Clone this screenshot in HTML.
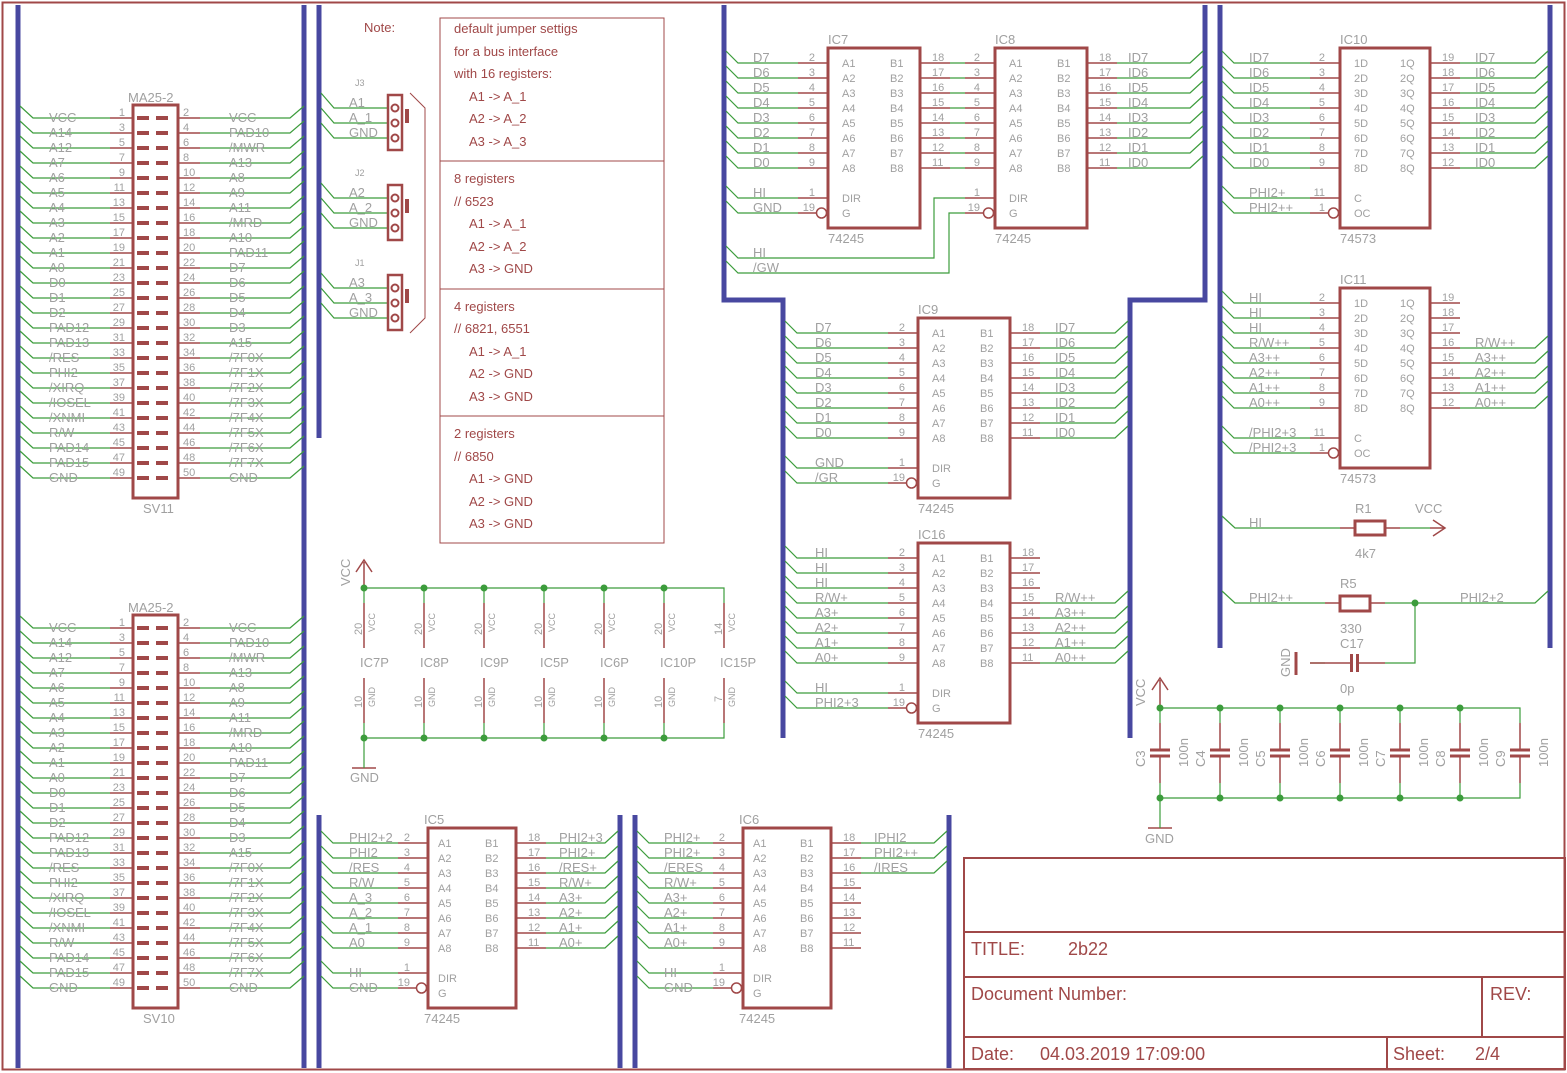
<!DOCTYPE html>
<html><head><meta charset="utf-8"><style>
html,body{margin:0;padding:0;background:#fff}
svg{display:block}
text{font-family:"Liberation Sans",sans-serif}
.l{font-size:13px;fill:#a0a0a0}
.n{font-size:11px;fill:#a0a0a0}
.s{font-size:9px;fill:#a0a0a0}
.t{font-size:13px;fill:#a04848}
.T{font-size:18px;fill:#a04848}
.e{text-anchor:end}
.g{stroke:#3c9c3c;stroke-width:1.2;fill:none}
.r{stroke:#a04848;stroke-width:1.5;fill:none}
.R{stroke:#a04848;stroke-width:3;fill:none}
.b{stroke:#4848a0;stroke-width:5;fill:none}
</style></head><body>
<svg width="1567" height="1073" viewBox="0 0 1567 1073" xmlns="http://www.w3.org/2000/svg">
<defs>
<g id="sv"><path class="g" d="M20 -12L33 0H110M200 0H290L304 -12"/><path class="r" d="M110 0H133M178 0H200"/><rect x="137" y="-2" width="12" height="4" fill="#a04848"/><rect x="156" y="-2" width="12" height="4" fill="#a04848"/></g>
<circle id="dot" r="3.5" fill="#3c9c3c"/>
</defs>
<rect x="2.5" y="2.5" width="1562" height="1067" fill="none" stroke="#a04848" stroke-width="2"/>
<!-- buses -->
<path class="b" d="M18 5V1068M304 5V1068M319 5V438M319 815V1068M620 815V1068M635 815V1068M949 815V1068M724 5V300H783V738M1205 5V300H1130V738M1220 5V648M1550 5V648"/>

<!-- SV11 -->
<rect class="R" x="133" y="105" width="45" height="393"/>
<text class="l" x="128" y="102">MA25-2</text><text class="l" x="143" y="513">SV11</text>
<use href="#sv" y="118"/><use href="#sv" y="133"/><use href="#sv" y="148"/><use href="#sv" y="163"/><use href="#sv" y="178"/><use href="#sv" y="193"/><use href="#sv" y="208"/><use href="#sv" y="223"/><use href="#sv" y="238"/><use href="#sv" y="253"/><use href="#sv" y="268"/><use href="#sv" y="283"/><use href="#sv" y="298"/><use href="#sv" y="313"/><use href="#sv" y="328"/><use href="#sv" y="343"/><use href="#sv" y="358"/><use href="#sv" y="373"/><use href="#sv" y="388"/><use href="#sv" y="403"/><use href="#sv" y="418"/><use href="#sv" y="433"/><use href="#sv" y="448"/><use href="#sv" y="463"/><use href="#sv" y="478"/>
<g class="l">
<text x="49" y="122">VCC</text><text x="49" y="137">A14</text><text x="49" y="152">A12</text><text x="49" y="167">A7</text><text x="49" y="182">A6</text><text x="49" y="197">A5</text><text x="49" y="212">A4</text><text x="49" y="227">A3</text><text x="49" y="242">A2</text><text x="49" y="257">A1</text><text x="49" y="272">A0</text><text x="49" y="287">D0</text><text x="49" y="302">D1</text><text x="49" y="317">D2</text><text x="49" y="332">PAD12</text><text x="49" y="347">PAD13</text><text x="49" y="362">/RES</text><text x="49" y="377">PHI2</text><text x="49" y="392">/XIRQ</text><text x="49" y="407">/IOSEL</text><text x="49" y="422">/XNMI</text><text x="49" y="437">R/W</text><text x="49" y="452">PAD14</text><text x="49" y="467">PAD15</text><text x="49" y="482">GND</text>
<text x="229" y="122">VCC</text><text x="229" y="137">PAD10</text><text x="229" y="152">/MWR</text><text x="229" y="167">A13</text><text x="229" y="182">A8</text><text x="229" y="197">A9</text><text x="229" y="212">A11</text><text x="229" y="227">/MRD</text><text x="229" y="242">A10</text><text x="229" y="257">PAD11</text><text x="229" y="272">D7</text><text x="229" y="287">D6</text><text x="229" y="302">D5</text><text x="229" y="317">D4</text><text x="229" y="332">D3</text><text x="229" y="347">A15</text><text x="229" y="362">/7F0X</text><text x="229" y="377">/7F1X</text><text x="229" y="392">/7F2X</text><text x="229" y="407">/7F3X</text><text x="229" y="422">/7F4X</text><text x="229" y="437">/7F5X</text><text x="229" y="452">/7F6X</text><text x="229" y="467">/7F7X</text><text x="229" y="482">GND</text>
</g>
<g class="n" transform="translate(0,-5)">
<g class="e"><text x="125" y="121">1</text><text x="125" y="136">3</text><text x="125" y="151">5</text><text x="125" y="166">7</text><text x="125" y="181">9</text><text x="125" y="196">11</text><text x="125" y="211">13</text><text x="125" y="226">15</text><text x="125" y="241">17</text><text x="125" y="256">19</text><text x="125" y="271">21</text><text x="125" y="286">23</text><text x="125" y="301">25</text><text x="125" y="316">27</text><text x="125" y="331">29</text><text x="125" y="346">31</text><text x="125" y="361">33</text><text x="125" y="376">35</text><text x="125" y="391">37</text><text x="125" y="406">39</text><text x="125" y="421">41</text><text x="125" y="436">43</text><text x="125" y="451">45</text><text x="125" y="466">47</text><text x="125" y="481">49</text></g>
<text x="183" y="121">2</text><text x="183" y="136">4</text><text x="183" y="151">6</text><text x="183" y="166">8</text><text x="183" y="181">10</text><text x="183" y="196">12</text><text x="183" y="211">14</text><text x="183" y="226">16</text><text x="183" y="241">18</text><text x="183" y="256">20</text><text x="183" y="271">22</text><text x="183" y="286">24</text><text x="183" y="301">26</text><text x="183" y="316">28</text><text x="183" y="331">30</text><text x="183" y="346">32</text><text x="183" y="361">34</text><text x="183" y="376">36</text><text x="183" y="391">38</text><text x="183" y="406">40</text><text x="183" y="421">42</text><text x="183" y="436">44</text><text x="183" y="451">46</text><text x="183" y="466">48</text><text x="183" y="481">50</text>
</g>

<!-- SV10 -->
<rect class="R" x="133" y="615" width="45" height="393"/>
<text class="l" x="128" y="612">MA25-2</text><text class="l" x="143" y="1023">SV10</text>
<use href="#sv" y="628"/><use href="#sv" y="643"/><use href="#sv" y="658"/><use href="#sv" y="673"/><use href="#sv" y="688"/><use href="#sv" y="703"/><use href="#sv" y="718"/><use href="#sv" y="733"/><use href="#sv" y="748"/><use href="#sv" y="763"/><use href="#sv" y="778"/><use href="#sv" y="793"/><use href="#sv" y="808"/><use href="#sv" y="823"/><use href="#sv" y="838"/><use href="#sv" y="853"/><use href="#sv" y="868"/><use href="#sv" y="883"/><use href="#sv" y="898"/><use href="#sv" y="913"/><use href="#sv" y="928"/><use href="#sv" y="943"/><use href="#sv" y="958"/><use href="#sv" y="973"/><use href="#sv" y="988"/>
<g class="l">
<text x="49" y="632">VCC</text><text x="49" y="647">A14</text><text x="49" y="662">A12</text><text x="49" y="677">A7</text><text x="49" y="692">A6</text><text x="49" y="707">A5</text><text x="49" y="722">A4</text><text x="49" y="737">A3</text><text x="49" y="752">A2</text><text x="49" y="767">A1</text><text x="49" y="782">A0</text><text x="49" y="797">D0</text><text x="49" y="812">D1</text><text x="49" y="827">D2</text><text x="49" y="842">PAD12</text><text x="49" y="857">PAD13</text><text x="49" y="872">/RES</text><text x="49" y="887">PHI2</text><text x="49" y="902">/XIRQ</text><text x="49" y="917">/IOSEL</text><text x="49" y="932">/XNMI</text><text x="49" y="947">R/W</text><text x="49" y="962">PAD14</text><text x="49" y="977">PAD15</text><text x="49" y="992">GND</text>
<text x="229" y="632">VCC</text><text x="229" y="647">PAD10</text><text x="229" y="662">/MWR</text><text x="229" y="677">A13</text><text x="229" y="692">A8</text><text x="229" y="707">A9</text><text x="229" y="722">A11</text><text x="229" y="737">/MRD</text><text x="229" y="752">A10</text><text x="229" y="767">PAD11</text><text x="229" y="782">D7</text><text x="229" y="797">D6</text><text x="229" y="812">D5</text><text x="229" y="827">D4</text><text x="229" y="842">D3</text><text x="229" y="857">A15</text><text x="229" y="872">/7F0X</text><text x="229" y="887">/7F1X</text><text x="229" y="902">/7F2X</text><text x="229" y="917">/7F3X</text><text x="229" y="932">/7F4X</text><text x="229" y="947">/7F5X</text><text x="229" y="962">/7F6X</text><text x="229" y="977">/7F7X</text><text x="229" y="992">GND</text>
</g>
<g class="n" transform="translate(0,-5)">
<g class="e"><text x="125" y="631">1</text><text x="125" y="646">3</text><text x="125" y="661">5</text><text x="125" y="676">7</text><text x="125" y="691">9</text><text x="125" y="706">11</text><text x="125" y="721">13</text><text x="125" y="736">15</text><text x="125" y="751">17</text><text x="125" y="766">19</text><text x="125" y="781">21</text><text x="125" y="796">23</text><text x="125" y="811">25</text><text x="125" y="826">27</text><text x="125" y="841">29</text><text x="125" y="856">31</text><text x="125" y="871">33</text><text x="125" y="886">35</text><text x="125" y="901">37</text><text x="125" y="916">39</text><text x="125" y="931">41</text><text x="125" y="946">43</text><text x="125" y="961">45</text><text x="125" y="976">47</text><text x="125" y="991">49</text></g>
<text x="183" y="631">2</text><text x="183" y="646">4</text><text x="183" y="661">6</text><text x="183" y="676">8</text><text x="183" y="691">10</text><text x="183" y="706">12</text><text x="183" y="721">14</text><text x="183" y="736">16</text><text x="183" y="751">18</text><text x="183" y="766">20</text><text x="183" y="781">22</text><text x="183" y="796">24</text><text x="183" y="811">26</text><text x="183" y="826">28</text><text x="183" y="841">30</text><text x="183" y="856">32</text><text x="183" y="871">34</text><text x="183" y="886">36</text><text x="183" y="901">38</text><text x="183" y="916">40</text><text x="183" y="931">42</text><text x="183" y="946">44</text><text x="183" y="961">46</text><text x="183" y="976">48</text><text x="183" y="991">50</text>
</g>

<!-- Jumpers -->
<path class="g" d="M321 93l13 15H388M321 108l13 15H388M321 123l13 15H388M321 183l13 15H388M321 198l13 15H388M321 213l13 15H388M321 273l13 15H388M321 288l13 15H388M321 303l13 15H388"/>
<g class="R" style="stroke-width:2.5"><rect x="388" y="95" width="14" height="55"/><rect x="388" y="185" width="14" height="55"/><rect x="388" y="275" width="14" height="55"/></g>
<g class="r" style="stroke-width:2"><circle cx="395" cy="108" r="3.5"/><circle cx="395" cy="123" r="3.5"/><circle cx="395" cy="138" r="3.5"/><circle cx="395" cy="198" r="3.5"/><circle cx="395" cy="213" r="3.5"/><circle cx="395" cy="228" r="3.5"/><circle cx="395" cy="288" r="3.5"/><circle cx="395" cy="303" r="3.5"/><circle cx="395" cy="318" r="3.5"/></g>
<rect x="405" y="109" width="4" height="14" fill="#a04848"/><rect x="405" y="199" width="4" height="14" fill="#a04848"/><rect x="405" y="289" width="4" height="14" fill="#a04848"/>
<path class="r" style="stroke-width:1" d="M410 93L425 108V318L410 333"/>
<g class="l"><text x="349" y="107">A1</text><text x="349" y="122">A_1</text><text x="349" y="137">GND</text><text x="349" y="197">A2</text><text x="349" y="212">A_2</text><text x="349" y="227">GND</text><text x="349" y="287">A3</text><text x="349" y="302">A_3</text><text x="349" y="317">GND</text></g>
<g class="s"><text x="355" y="86">J3</text><text x="355" y="176">J2</text><text x="355" y="266">J1</text></g>

<!-- Note -->
<text class="t" x="364" y="32">Note:</text>
<rect x="440" y="18" width="224" height="525" fill="none" stroke="#a04848" stroke-width="1"/>
<path class="r" style="stroke-width:1" d="M440 161H664M440 289H664M440 416H664"/>
<g class="t">
<text x="454" y="33">default jumper settigs</text><text x="454" y="56">for a bus interface</text><text x="454" y="78">with 16 registers:</text>
<text x="469" y="101">A1 -&gt; A_1</text><text x="469" y="123">A2 -&gt; A_2</text><text x="469" y="146">A3 -&gt; A_3</text>
<text x="454" y="183">8 registers</text><text x="454" y="206">// 6523</text><text x="469" y="228">A1 -&gt; A_1</text><text x="469" y="251">A2 -&gt; A_2</text><text x="469" y="273">A3 -&gt; GND</text>
<text x="454" y="311">4 registers</text><text x="454" y="333">// 6821, 6551</text><text x="469" y="356">A1 -&gt; A_1</text><text x="469" y="378">A2 -&gt; GND</text><text x="469" y="401">A3 -&gt; GND</text>
<text x="454" y="438">2 registers</text><text x="454" y="461">// 6850</text><text x="469" y="483">A1 -&gt; GND</text><text x="469" y="506">A2 -&gt; GND</text><text x="469" y="528">A3 -&gt; GND</text>
</g>

<!-- Power block -->
<path class="r" d="M364 588V562M356 572L364 560L372 572M352 768H376"/>
<path class="g" d="M364 588H724V603M364 588V603M424 588V603M484 588V603M544 588V603M604 588V603M664 588V603M364 723V768M424 723V738M484 723V738M544 723V738M604 723V738M664 723V738M724 723V738H364"/>
<path class="r" d="M364 603V648M424 603V648M484 603V648M544 603V648M604 603V648M664 603V648M724 603V648M364 678V723M424 678V723M484 678V723M544 678V723M604 678V723M664 678V723M724 678V723"/>
<g><use href="#dot" x="364" y="588"/><use href="#dot" x="424" y="588"/><use href="#dot" x="484" y="588"/><use href="#dot" x="544" y="588"/><use href="#dot" x="604" y="588"/><use href="#dot" x="664" y="588"/><use href="#dot" x="364" y="738"/><use href="#dot" x="424" y="738"/><use href="#dot" x="484" y="738"/><use href="#dot" x="544" y="738"/><use href="#dot" x="604" y="738"/><use href="#dot" x="664" y="738"/></g>
<text class="l" transform="translate(350,586) rotate(-90)">VCC</text>
<text class="l" x="350" y="782">GND</text>
<g class="l"><text x="360" y="667">IC7P</text><text x="420" y="667">IC8P</text><text x="480" y="667">IC9P</text><text x="540" y="667">IC5P</text><text x="600" y="667">IC6P</text><text x="660" y="667">IC10P</text><text x="720" y="667">IC15P</text></g>
<g class="n">
<text transform="translate(362,635) rotate(-90)">20</text><text transform="translate(422,635) rotate(-90)">20</text><text transform="translate(482,635) rotate(-90)">20</text><text transform="translate(542,635) rotate(-90)">20</text><text transform="translate(602,635) rotate(-90)">20</text><text transform="translate(662,635) rotate(-90)">20</text><text transform="translate(722,635) rotate(-90)">14</text>
<text transform="translate(362,708) rotate(-90)">10</text><text transform="translate(422,708) rotate(-90)">10</text><text transform="translate(482,708) rotate(-90)">10</text><text transform="translate(542,708) rotate(-90)">10</text><text transform="translate(602,708) rotate(-90)">10</text><text transform="translate(662,708) rotate(-90)">10</text><text transform="translate(722,702) rotate(-90)">7</text>
</g>
<g class="s">
<text transform="translate(375,632) rotate(-90)">VCC</text><text transform="translate(435,632) rotate(-90)">VCC</text><text transform="translate(495,632) rotate(-90)">VCC</text><text transform="translate(555,632) rotate(-90)">VCC</text><text transform="translate(615,632) rotate(-90)">VCC</text><text transform="translate(675,632) rotate(-90)">VCC</text><text transform="translate(735,632) rotate(-90)">VCC</text>
<text transform="translate(375,707) rotate(-90)">GND</text><text transform="translate(435,707) rotate(-90)">GND</text><text transform="translate(495,707) rotate(-90)">GND</text><text transform="translate(555,707) rotate(-90)">GND</text><text transform="translate(615,707) rotate(-90)">GND</text><text transform="translate(675,707) rotate(-90)">GND</text><text transform="translate(735,707) rotate(-90)">GND</text>
</g>

<!-- IC7 / IC8 -->
<rect class="R" x="828" y="48" width="92" height="180"/><rect class="R" x="995" y="48" width="92" height="180"/>
<path class="r" d="M798 63h30m-30 15h30m-30 15h30m-30 15h30m-30 15h30m-30 15h30m-30 15h30m-30 15h30M798 198h30M798 213h18M920 63h30m-30 15h30m-30 15h30m-30 15h30m-30 15h30m-30 15h30m-30 15h30m-30 15h30M965 63h30m-30 15h30m-30 15h30m-30 15h30m-30 15h30m-30 15h30m-30 15h30m-30 15h30M965 198h30M965 213h18M1087 63h30m-30 15h30m-30 15h30m-30 15h30m-30 15h30m-30 15h30m-30 15h30m-30 15h30"/>
<circle class="r" cx="821.5" cy="213" r="5"/><circle class="r" cx="988.5" cy="213" r="5"/>
<path class="g" d="M726 51l12 12H798M726 66l12 12H798M726 81l12 12H798M726 96l12 12H798M726 111l12 12H798M726 126l12 12H798M726 141l12 12H798M726 156l12 12H798M726 186l12 12H798M726 201l12 12H798M726 246l12 12H934V198H965M726 261l12 12H949V213H965M950 63h15m-15 15h15m-15 15h15m-15 15h15m-15 15h15m-15 15h15m-15 15h15m-15 15h15M1117 63H1190l13 -12M1117 78H1190l13 -12M1117 93H1190l13 -12M1117 108H1190l13 -12M1117 123H1190l13 -12M1117 138H1190l13 -12M1117 153H1190l13 -12M1117 168H1190l13 -12"/>
<g class="l"><text x="828" y="44">IC7</text><text x="828" y="243">74245</text><text x="995" y="44">IC8</text><text x="995" y="243">74245</text>
<text x="753" y="62">D7</text><text x="753" y="77">D6</text><text x="753" y="92">D5</text><text x="753" y="107">D4</text><text x="753" y="122">D3</text><text x="753" y="137">D2</text><text x="753" y="152">D1</text><text x="753" y="167">D0</text><text x="753" y="197">HI</text><text x="753" y="212">GND</text><text x="753" y="257">HI</text><text x="753" y="272">/GW</text>
<text x="1128" y="62">ID7</text><text x="1128" y="77">ID6</text><text x="1128" y="92">ID5</text><text x="1128" y="107">ID4</text><text x="1128" y="122">ID3</text><text x="1128" y="137">ID2</text><text x="1128" y="152">ID1</text><text x="1128" y="167">ID0</text></g>
<g class="n">
<text x="842" y="67">A1</text><text x="842" y="82">A2</text><text x="842" y="97">A3</text><text x="842" y="112">A4</text><text x="842" y="127">A5</text><text x="842" y="142">A6</text><text x="842" y="157">A7</text><text x="842" y="172">A8</text><text x="842" y="202">DIR</text><text x="842" y="217">G</text>
<text x="890" y="67">B1</text><text x="890" y="82">B2</text><text x="890" y="97">B3</text><text x="890" y="112">B4</text><text x="890" y="127">B5</text><text x="890" y="142">B6</text><text x="890" y="157">B7</text><text x="890" y="172">B8</text>
<text x="1009" y="67">A1</text><text x="1009" y="82">A2</text><text x="1009" y="97">A3</text><text x="1009" y="112">A4</text><text x="1009" y="127">A5</text><text x="1009" y="142">A6</text><text x="1009" y="157">A7</text><text x="1009" y="172">A8</text><text x="1009" y="202">DIR</text><text x="1009" y="217">G</text>
<text x="1057" y="67">B1</text><text x="1057" y="82">B2</text><text x="1057" y="97">B3</text><text x="1057" y="112">B4</text><text x="1057" y="127">B5</text><text x="1057" y="142">B6</text><text x="1057" y="157">B7</text><text x="1057" y="172">B8</text>
<g class="e"><text x="815" y="61">2</text><text x="815" y="76">3</text><text x="815" y="91">4</text><text x="815" y="106">5</text><text x="815" y="121">6</text><text x="815" y="136">7</text><text x="815" y="151">8</text><text x="815" y="166">9</text><text x="815" y="196">1</text><text x="815" y="211">19</text>
<text x="980" y="61">2</text><text x="980" y="76">3</text><text x="980" y="91">4</text><text x="980" y="106">5</text><text x="980" y="121">6</text><text x="980" y="136">7</text><text x="980" y="151">8</text><text x="980" y="166">9</text><text x="980" y="196">1</text><text x="980" y="211">19</text></g>
<text x="932" y="61">18</text><text x="932" y="76">17</text><text x="932" y="91">16</text><text x="932" y="106">15</text><text x="932" y="121">14</text><text x="932" y="136">13</text><text x="932" y="151">12</text><text x="932" y="166">11</text>
<text x="1099" y="61">18</text><text x="1099" y="76">17</text><text x="1099" y="91">16</text><text x="1099" y="106">15</text><text x="1099" y="121">14</text><text x="1099" y="136">13</text><text x="1099" y="151">12</text><text x="1099" y="166">11</text>
</g>

<!-- IC9 -->
<rect class="R" x="918" y="318" width="92" height="180"/>
<path class="r" d="M888 333h30m-30 15h30m-30 15h30m-30 15h30m-30 15h30m-30 15h30m-30 15h30m-30 15h30M888 468h30M888 483h18M1010 333h30m-30 15h30m-30 15h30m-30 15h30m-30 15h30m-30 15h30m-30 15h30m-30 15h30"/>
<circle class="r" cx="911.5" cy="483" r="5"/>
<path class="g" d="M785 321l12 12H888M785 336l12 12H888M785 351l12 12H888M785 366l12 12H888M785 381l12 12H888M785 396l12 12H888M785 411l12 12H888M785 426l12 12H888M785 456l12 12H888M785 471l12 12H888M1040 333H1115l13 -12M1040 348H1115l13 -12M1040 363H1115l13 -12M1040 378H1115l13 -12M1040 393H1115l13 -12M1040 408H1115l13 -12M1040 423H1115l13 -12M1040 438H1115l13 -12"/>
<g class="l"><text x="918" y="314">IC9</text><text x="918" y="513">74245</text>
<text x="815" y="332">D7</text><text x="815" y="347">D6</text><text x="815" y="362">D5</text><text x="815" y="377">D4</text><text x="815" y="392">D3</text><text x="815" y="407">D2</text><text x="815" y="422">D1</text><text x="815" y="437">D0</text><text x="815" y="467">GND</text><text x="815" y="482">/GR</text>
<text x="1055" y="332">ID7</text><text x="1055" y="347">ID6</text><text x="1055" y="362">ID5</text><text x="1055" y="377">ID4</text><text x="1055" y="392">ID3</text><text x="1055" y="407">ID2</text><text x="1055" y="422">ID1</text><text x="1055" y="437">ID0</text></g>
<g class="n">
<text x="932" y="337">A1</text><text x="932" y="352">A2</text><text x="932" y="367">A3</text><text x="932" y="382">A4</text><text x="932" y="397">A5</text><text x="932" y="412">A6</text><text x="932" y="427">A7</text><text x="932" y="442">A8</text><text x="932" y="472">DIR</text><text x="932" y="487">G</text>
<text x="980" y="337">B1</text><text x="980" y="352">B2</text><text x="980" y="367">B3</text><text x="980" y="382">B4</text><text x="980" y="397">B5</text><text x="980" y="412">B6</text><text x="980" y="427">B7</text><text x="980" y="442">B8</text>
<g class="e"><text x="905" y="331">2</text><text x="905" y="346">3</text><text x="905" y="361">4</text><text x="905" y="376">5</text><text x="905" y="391">6</text><text x="905" y="406">7</text><text x="905" y="421">8</text><text x="905" y="436">9</text><text x="905" y="466">1</text><text x="905" y="481">19</text></g>
<text x="1022" y="331">18</text><text x="1022" y="346">17</text><text x="1022" y="361">16</text><text x="1022" y="376">15</text><text x="1022" y="391">14</text><text x="1022" y="406">13</text><text x="1022" y="421">12</text><text x="1022" y="436">11</text>
</g>

<!-- IC16 -->
<rect class="R" x="918" y="543" width="92" height="180"/>
<path class="r" d="M888 558h30m-30 15h30m-30 15h30m-30 15h30m-30 15h30m-30 15h30m-30 15h30m-30 15h30M888 693h30M888 708h18M1010 558h30m-30 15h30m-30 15h30m-30 15h30m-30 15h30m-30 15h30m-30 15h30m-30 15h30"/>
<circle class="r" cx="911.5" cy="708" r="5"/>
<path class="g" d="M785 546l12 12H888M785 561l12 12H888M785 576l12 12H888M785 591l12 12H888M785 606l12 12H888M785 621l12 12H888M785 636l12 12H888M785 651l12 12H888M785 681l12 12H888M785 696l12 12H888M1040 603H1115l13 -12M1040 618H1115l13 -12M1040 633H1115l13 -12M1040 648H1115l13 -12M1040 663H1115l13 -12"/>
<g class="l"><text x="918" y="539">IC16</text><text x="918" y="738">74245</text>
<text x="815" y="557">HI</text><text x="815" y="572">HI</text><text x="815" y="587">HI</text><text x="815" y="602">R/W+</text><text x="815" y="617">A3+</text><text x="815" y="632">A2+</text><text x="815" y="647">A1+</text><text x="815" y="662">A0+</text><text x="815" y="692">HI</text><text x="815" y="707">PHI2+3</text>
<text x="1055" y="602">R/W++</text><text x="1055" y="617">A3++</text><text x="1055" y="632">A2++</text><text x="1055" y="647">A1++</text><text x="1055" y="662">A0++</text></g>
<g class="n">
<text x="932" y="562">A1</text><text x="932" y="577">A2</text><text x="932" y="592">A3</text><text x="932" y="607">A4</text><text x="932" y="622">A5</text><text x="932" y="637">A6</text><text x="932" y="652">A7</text><text x="932" y="667">A8</text><text x="932" y="697">DIR</text><text x="932" y="712">G</text>
<text x="980" y="562">B1</text><text x="980" y="577">B2</text><text x="980" y="592">B3</text><text x="980" y="607">B4</text><text x="980" y="622">B5</text><text x="980" y="637">B6</text><text x="980" y="652">B7</text><text x="980" y="667">B8</text>
<g class="e"><text x="905" y="556">2</text><text x="905" y="571">3</text><text x="905" y="586">4</text><text x="905" y="601">5</text><text x="905" y="616">6</text><text x="905" y="631">7</text><text x="905" y="646">8</text><text x="905" y="661">9</text><text x="905" y="691">1</text><text x="905" y="706">19</text></g>
<text x="1022" y="556">18</text><text x="1022" y="571">17</text><text x="1022" y="586">16</text><text x="1022" y="601">15</text><text x="1022" y="616">14</text><text x="1022" y="631">13</text><text x="1022" y="646">12</text><text x="1022" y="661">11</text>
</g>

<!-- IC5 -->
<rect class="R" x="428" y="828" width="88" height="180"/>
<path class="r" d="M398 843h30m-30 15h30m-30 15h30m-30 15h30m-30 15h30m-30 15h30m-30 15h30m-30 15h30M398 973h30M398 988h18M516 843h30m-30 15h30m-30 15h30m-30 15h30m-30 15h30m-30 15h30m-30 15h30m-30 15h30"/>
<circle class="r" cx="421.5" cy="988" r="5"/>
<path class="g" d="M321 831l12 12H398M321 846l12 12H398M321 861l12 12H398M321 876l12 12H398M321 891l12 12H398M321 906l12 12H398M321 921l12 12H398M321 936l12 12H398M321 961l12 12H398M321 976l12 12H398M546 843H605l13 -12M546 858H605l13 -12M546 873H605l13 -12M546 888H605l13 -12M546 903H605l13 -12M546 918H605l13 -12M546 933H605l13 -12M546 948H605l13 -12"/>
<g class="l"><text x="424" y="824">IC5</text><text x="424" y="1023">74245</text>
<text x="349" y="842">PHI2+2</text><text x="349" y="857">PHI2</text><text x="349" y="872">/RES</text><text x="349" y="887">R/W</text><text x="349" y="902">A_3</text><text x="349" y="917">A_2</text><text x="349" y="932">A_1</text><text x="349" y="947">A0</text><text x="349" y="977">HI</text><text x="349" y="992">GND</text>
<text x="559" y="842">PHI2+3</text><text x="559" y="857">PHI2+</text><text x="559" y="872">/RES+</text><text x="559" y="887">R/W+</text><text x="559" y="902">A3+</text><text x="559" y="917">A2+</text><text x="559" y="932">A1+</text><text x="559" y="947">A0+</text></g>
<g class="n">
<text x="438" y="847">A1</text><text x="438" y="862">A2</text><text x="438" y="877">A3</text><text x="438" y="892">A4</text><text x="438" y="907">A5</text><text x="438" y="922">A6</text><text x="438" y="937">A7</text><text x="438" y="952">A8</text><text x="438" y="982">DIR</text><text x="438" y="997">G</text>
<text x="485" y="847">B1</text><text x="485" y="862">B2</text><text x="485" y="877">B3</text><text x="485" y="892">B4</text><text x="485" y="907">B5</text><text x="485" y="922">B6</text><text x="485" y="937">B7</text><text x="485" y="952">B8</text>
<g class="e"><text x="410" y="841">2</text><text x="410" y="856">3</text><text x="410" y="871">4</text><text x="410" y="886">5</text><text x="410" y="901">6</text><text x="410" y="916">7</text><text x="410" y="931">8</text><text x="410" y="946">9</text><text x="410" y="971">1</text><text x="410" y="986">19</text></g>
<text x="528" y="841">18</text><text x="528" y="856">17</text><text x="528" y="871">16</text><text x="528" y="886">15</text><text x="528" y="901">14</text><text x="528" y="916">13</text><text x="528" y="931">12</text><text x="528" y="946">11</text>
</g>

<!-- IC6 -->
<rect class="R" x="743" y="828" width="88" height="180"/>
<path class="r" d="M713 843h30m-30 15h30m-30 15h30m-30 15h30m-30 15h30m-30 15h30m-30 15h30m-30 15h30M713 973h30M713 988h18M831 843h30m-30 15h30m-30 15h30m-30 15h30m-30 15h30m-30 15h30m-30 15h30m-30 15h30"/>
<circle class="r" cx="736.5" cy="988" r="5"/>
<path class="g" d="M637 831l12 12H713M637 846l12 12H713M637 861l12 12H713M637 876l12 12H713M637 891l12 12H713M637 906l12 12H713M637 921l12 12H713M637 936l12 12H713M637 961l12 12H713M637 976l12 12H713M861 843H934l13 -12M861 858H934l13 -12M861 873H934l13 -12"/>
<g class="l"><text x="739" y="824">IC6</text><text x="739" y="1023">74245</text>
<text x="664" y="842">PHI2+</text><text x="664" y="857">PHI2+</text><text x="664" y="872">/ERES</text><text x="664" y="887">R/W+</text><text x="664" y="902">A3+</text><text x="664" y="917">A2+</text><text x="664" y="932">A1+</text><text x="664" y="947">A0+</text><text x="664" y="977">HI</text><text x="664" y="992">GND</text>
<text x="874" y="842">IPHI2</text><text x="874" y="857">PHI2++</text><text x="874" y="872">/IRES</text></g>
<g class="n">
<text x="753" y="847">A1</text><text x="753" y="862">A2</text><text x="753" y="877">A3</text><text x="753" y="892">A4</text><text x="753" y="907">A5</text><text x="753" y="922">A6</text><text x="753" y="937">A7</text><text x="753" y="952">A8</text><text x="753" y="982">DIR</text><text x="753" y="997">G</text>
<text x="800" y="847">B1</text><text x="800" y="862">B2</text><text x="800" y="877">B3</text><text x="800" y="892">B4</text><text x="800" y="907">B5</text><text x="800" y="922">B6</text><text x="800" y="937">B7</text><text x="800" y="952">B8</text>
<g class="e"><text x="725" y="841">2</text><text x="725" y="856">3</text><text x="725" y="871">4</text><text x="725" y="886">5</text><text x="725" y="901">6</text><text x="725" y="916">7</text><text x="725" y="931">8</text><text x="725" y="946">9</text><text x="725" y="971">1</text><text x="725" y="986">19</text></g>
<text x="843" y="841">18</text><text x="843" y="856">17</text><text x="843" y="871">16</text><text x="843" y="886">15</text><text x="843" y="901">14</text><text x="843" y="916">13</text><text x="843" y="931">12</text><text x="843" y="946">11</text>
</g>

<!-- IC10 -->
<rect class="R" x="1340" y="48" width="90" height="180"/>
<path class="r" d="M1310 63h30m-30 15h30m-30 15h30m-30 15h30m-30 15h30m-30 15h30m-30 15h30m-30 15h30M1310 198h30M1310 213h18M1430 63h30m-30 15h30m-30 15h30m-30 15h30m-30 15h30m-30 15h30m-30 15h30m-30 15h30"/>
<circle class="r" cx="1333.5" cy="213" r="5"/>
<path class="g" d="M1222 51l12 12H1310M1222 66l12 12H1310M1222 81l12 12H1310M1222 96l12 12H1310M1222 111l12 12H1310M1222 126l12 12H1310M1222 141l12 12H1310M1222 156l12 12H1310M1222 186l12 12H1310M1222 201l12 12H1310M1460 63H1535l13 -12M1460 78H1535l13 -12M1460 93H1535l13 -12M1460 108H1535l13 -12M1460 123H1535l13 -12M1460 138H1535l13 -12M1460 153H1535l13 -12M1460 168H1535l13 -12"/>
<g class="l"><text x="1340" y="44">IC10</text><text x="1340" y="243">74573</text>
<text x="1249" y="62">ID7</text><text x="1249" y="77">ID6</text><text x="1249" y="92">ID5</text><text x="1249" y="107">ID4</text><text x="1249" y="122">ID3</text><text x="1249" y="137">ID2</text><text x="1249" y="152">ID1</text><text x="1249" y="167">ID0</text><text x="1249" y="197">PHI2+</text><text x="1249" y="212">PHI2++</text>
<text x="1475" y="62">ID7</text><text x="1475" y="77">ID6</text><text x="1475" y="92">ID5</text><text x="1475" y="107">ID4</text><text x="1475" y="122">ID3</text><text x="1475" y="137">ID2</text><text x="1475" y="152">ID1</text><text x="1475" y="167">ID0</text></g>
<g class="n">
<text x="1354" y="67">1D</text><text x="1354" y="82">2D</text><text x="1354" y="97">3D</text><text x="1354" y="112">4D</text><text x="1354" y="127">5D</text><text x="1354" y="142">6D</text><text x="1354" y="157">7D</text><text x="1354" y="172">8D</text><text x="1354" y="202">C</text><text x="1354" y="217">OC</text>
<text x="1400" y="67">1Q</text><text x="1400" y="82">2Q</text><text x="1400" y="97">3Q</text><text x="1400" y="112">4Q</text><text x="1400" y="127">5Q</text><text x="1400" y="142">6Q</text><text x="1400" y="157">7Q</text><text x="1400" y="172">8Q</text>
<g class="e"><text x="1325" y="61">2</text><text x="1325" y="76">3</text><text x="1325" y="91">4</text><text x="1325" y="106">5</text><text x="1325" y="121">6</text><text x="1325" y="136">7</text><text x="1325" y="151">8</text><text x="1325" y="166">9</text><text x="1325" y="196">11</text><text x="1325" y="211">1</text></g>
<text x="1442" y="61">19</text><text x="1442" y="76">18</text><text x="1442" y="91">17</text><text x="1442" y="106">16</text><text x="1442" y="121">15</text><text x="1442" y="136">14</text><text x="1442" y="151">13</text><text x="1442" y="166">12</text>
</g>

<!-- IC11 -->
<rect class="R" x="1340" y="288" width="90" height="180"/>
<path class="r" d="M1310 303h30m-30 15h30m-30 15h30m-30 15h30m-30 15h30m-30 15h30m-30 15h30m-30 15h30M1310 438h30M1310 453h18M1430 303h30m-30 15h30m-30 15h30m-30 15h30m-30 15h30m-30 15h30m-30 15h30m-30 15h30"/>
<circle class="r" cx="1333.5" cy="453" r="5"/>
<path class="g" d="M1222 291l12 12H1310M1222 306l12 12H1310M1222 321l12 12H1310M1222 336l12 12H1310M1222 351l12 12H1310M1222 366l12 12H1310M1222 381l12 12H1310M1222 396l12 12H1310M1222 426l12 12H1310M1222 441l12 12H1310M1460 348H1535l13 -12M1460 363H1535l13 -12M1460 378H1535l13 -12M1460 393H1535l13 -12M1460 408H1535l13 -12"/>
<g class="l"><text x="1340" y="284">IC11</text><text x="1340" y="483">74573</text>
<text x="1249" y="302">HI</text><text x="1249" y="317">HI</text><text x="1249" y="332">HI</text><text x="1249" y="347">R/W++</text><text x="1249" y="362">A3++</text><text x="1249" y="377">A2++</text><text x="1249" y="392">A1++</text><text x="1249" y="407">A0++</text><text x="1249" y="437">/PHI2+3</text><text x="1249" y="452">/PHI2+3</text>
<text x="1475" y="347">R/W++</text><text x="1475" y="362">A3++</text><text x="1475" y="377">A2++</text><text x="1475" y="392">A1++</text><text x="1475" y="407">A0++</text></g>
<g class="n">
<text x="1354" y="307">1D</text><text x="1354" y="322">2D</text><text x="1354" y="337">3D</text><text x="1354" y="352">4D</text><text x="1354" y="367">5D</text><text x="1354" y="382">6D</text><text x="1354" y="397">7D</text><text x="1354" y="412">8D</text><text x="1354" y="442">C</text><text x="1354" y="457">OC</text>
<text x="1400" y="307">1Q</text><text x="1400" y="322">2Q</text><text x="1400" y="337">3Q</text><text x="1400" y="352">4Q</text><text x="1400" y="367">5Q</text><text x="1400" y="382">6Q</text><text x="1400" y="397">7Q</text><text x="1400" y="412">8Q</text>
<g class="e"><text x="1325" y="301">2</text><text x="1325" y="316">3</text><text x="1325" y="331">4</text><text x="1325" y="346">5</text><text x="1325" y="361">6</text><text x="1325" y="376">7</text><text x="1325" y="391">8</text><text x="1325" y="406">9</text><text x="1325" y="436">11</text><text x="1325" y="451">1</text></g>
<text x="1442" y="301">19</text><text x="1442" y="316">18</text><text x="1442" y="331">17</text><text x="1442" y="346">16</text><text x="1442" y="361">15</text><text x="1442" y="376">14</text><text x="1442" y="391">13</text><text x="1442" y="406">12</text>
</g>

<!-- R1, R5, C17 -->
<path class="g" d="M1222 516l13 12H1340M1400 528H1430M1222 591l13 12H1325M1385 603H1535l13 -12M1415 603V663H1385M1325 663H1310"/>
<path class="r" d="M1340 528H1355M1385 528H1400M1430 528H1445M1433 520L1445 528L1433 536M1325 603H1340M1370 603H1385M1310 663H1350M1358 663H1385"/>
<path class="R" d="M1296 652V675M1351.5 654V672M1357.5 654V672"/>
<rect class="R" x="1355" y="521" width="30" height="14"/><rect class="R" x="1340" y="596" width="30" height="15"/>
<use href="#dot" x="1415" y="603"/>
<g class="l"><text x="1355" y="513">R1</text><text x="1415" y="513">VCC</text><text x="1355" y="558">4k7</text><text x="1249" y="527">HI</text>
<text x="1340" y="588">R5</text><text x="1249" y="602">PHI2++</text><text x="1460" y="602">PHI2+2</text><text x="1340" y="633">330</text><text x="1340" y="648">C17</text><text x="1340" y="693">0p</text>
<text transform="translate(1290,677) rotate(-90)">GND</text></g>

<!-- Caps -->
<path class="r" d="M1160 708V680M1152 690L1160 678L1168 690M1148 828H1172"/>
<path class="g" d="M1160 708H1520V723M1160 708V723M1220 708V723M1280 708V723M1340 708V723M1400 708V723M1460 708V723M1160 783V828M1220 783V798M1280 783V798M1340 783V798M1400 783V798M1460 783V798M1520 783V798H1160"/>
<path class="r" d="M1160 723V750M1160 756V783M1220 723V750M1220 756V783M1280 723V750M1280 756V783M1340 723V750M1340 756V783M1400 723V750M1400 756V783M1460 723V750M1460 756V783M1520 723V750M1520 756V783"/>
<path class="R" d="M1150 750H1170M1150 756H1170M1210 750H1230M1210 756H1230M1270 750H1290M1270 756H1290M1330 750H1350M1330 756H1350M1390 750H1410M1390 756H1410M1450 750H1470M1450 756H1470M1510 750H1530M1510 756H1530"/>
<use href="#dot" x="1160" y="708"/><use href="#dot" x="1220" y="708"/><use href="#dot" x="1280" y="708"/><use href="#dot" x="1340" y="708"/><use href="#dot" x="1400" y="708"/><use href="#dot" x="1460" y="708"/>
<use href="#dot" x="1160" y="798"/><use href="#dot" x="1220" y="798"/><use href="#dot" x="1280" y="798"/><use href="#dot" x="1340" y="798"/><use href="#dot" x="1400" y="798"/><use href="#dot" x="1460" y="798"/>
<g class="l">
<text transform="translate(1145,706) rotate(-90)">VCC</text><text x="1145" y="843">GND</text>
<text transform="translate(1145,767) rotate(-90)">C3</text><text transform="translate(1205,767) rotate(-90)">C4</text><text transform="translate(1265,767) rotate(-90)">C5</text><text transform="translate(1325,767) rotate(-90)">C6</text><text transform="translate(1385,767) rotate(-90)">C7</text><text transform="translate(1445,767) rotate(-90)">C8</text><text transform="translate(1505,767) rotate(-90)">C9</text>
<text transform="translate(1188,767) rotate(-90)">100n</text><text transform="translate(1248,767) rotate(-90)">100n</text><text transform="translate(1308,767) rotate(-90)">100n</text><text transform="translate(1368,767) rotate(-90)">100n</text><text transform="translate(1428,767) rotate(-90)">100n</text><text transform="translate(1488,767) rotate(-90)">100n</text><text transform="translate(1548,767) rotate(-90)">100n</text>
</g>

<!-- Title block -->
<g fill="none" stroke="#a04848" stroke-width="2">
<rect x="964" y="858" width="601" height="211"/>
<path d="M964 932H1565M964 977H1565M964 1037H1565M1482 977V1037M1387 1037V1068"/>
</g>
<g class="T"><text x="971" y="955">TITLE:</text><text x="1068" y="955">2b22</text><text x="971" y="1000">Document Number:</text><text x="1490" y="1000">REV:</text><text x="971" y="1060">Date:</text><text x="1040" y="1060">04.03.2019 17:09:00</text><text x="1393" y="1060">Sheet:</text><text x="1475" y="1060">2/4</text></g>
</svg>
</body></html>
